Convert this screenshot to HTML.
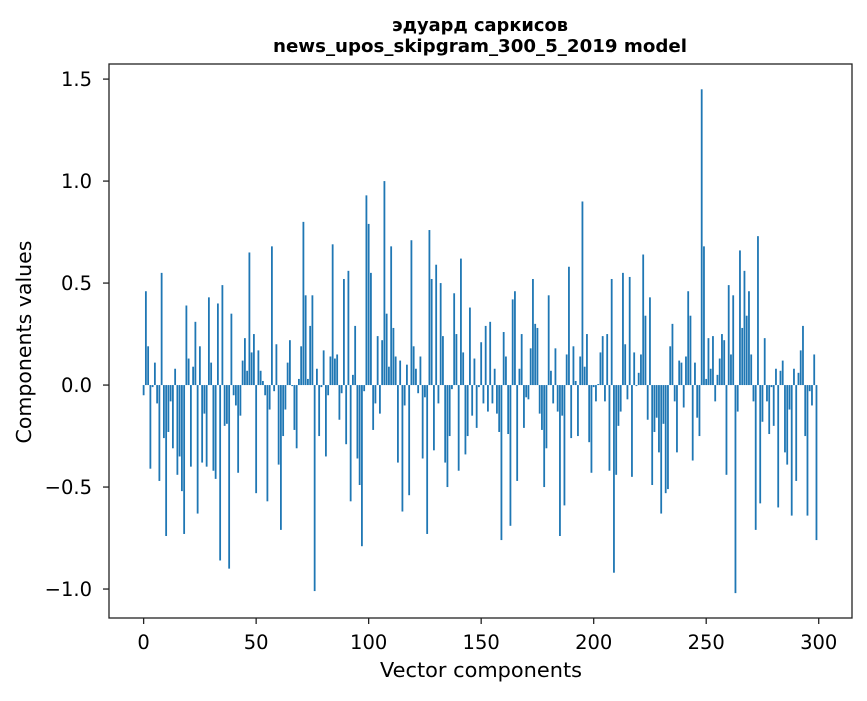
<!DOCTYPE html>
<html><head><meta charset="utf-8"><style>
body{margin:0;background:#fff;}
svg text{font-family:"DejaVu Sans","Liberation Sans",sans-serif;fill:#000;}
</style></head><body>
<svg id="chart" width="867" height="696" xmlns="http://www.w3.org/2000/svg">
<rect x="0" y="0" width="867" height="696" fill="#fff"/>
<text x="480" y="31" text-anchor="middle" font-size="17.5" font-weight="bold" textLength="176" lengthAdjust="spacingAndGlyphs">эдуард саркисов</text>
<text x="480" y="52" text-anchor="middle" font-size="17.5" font-weight="bold" textLength="414" lengthAdjust="spacingAndGlyphs">news_upos_skipgram_300_5_2019 model</text>
<g id="bars"></g>
<rect x="109" y="64" width="743" height="554" fill="none" stroke="#222" stroke-width="1.3"/>
<g id="axes"></g>
<text x="481" y="677" text-anchor="middle" font-size="20" textLength="202" lengthAdjust="spacingAndGlyphs">Vector components</text>
<text transform="translate(31,342) rotate(-90)" text-anchor="middle" font-size="20" textLength="203" lengthAdjust="spacingAndGlyphs">Components values</text>
</svg>
<script>
const values = [
-0.05,0.46,0.19,-0.41,-0.01,0.11,-0.09,-0.47,0.55,-0.26,
-0.74,-0.23,-0.08,-0.31,0.08,-0.44,-0.35,-0.52,-0.73,0.39,
0.13,-0.40,0.09,0.31,-0.63,0.19,-0.38,-0.14,-0.40,0.43,
0.11,-0.42,-0.46,0.40,-0.86,0.49,-0.20,-0.19,-0.90,0.35,
-0.05,-0.10,-0.43,-0.15,0.12,0.23,0.07,0.65,0.16,0.25,
-0.53,0.17,0.07,0.02,-0.05,-0.57,-0.12,0.68,-0.03,0.20,
-0.39,-0.71,-0.25,-0.12,0.11,0.22,-0.005,-0.22,-0.31,0.03,
0.19,0.80,0.44,0.03,0.29,0.44,-1.01,0.08,-0.25,-0.01,
0.17,-0.35,-0.05,0.14,0.69,0.13,0.15,-0.17,-0.04,0.52,
-0.29,0.56,-0.57,0.05,0.29,-0.36,-0.49,-0.79,-0.03,0.93,
0.79,0.55,-0.22,-0.09,0.24,-0.14,0.22,1.00,0.35,0.09,
0.68,0.28,0.14,-0.38,0.12,-0.62,-0.10,0.10,-0.54,0.71,
0.19,0.08,-0.04,0.14,-0.36,-0.06,-0.73,0.76,0.52,-0.32,
0.59,-0.09,0.50,0.24,-0.38,-0.50,-0.25,-0.02,0.45,0.25,
-0.42,0.62,0.16,-0.34,-0.25,0.38,-0.15,0.13,-0.21,-0.01,
0.21,-0.09,0.29,-0.13,0.31,-0.09,0.08,-0.14,-0.23,-0.76,
0.26,0.14,-0.24,-0.69,0.42,0.46,-0.47,0.08,0.25,-0.21,
-0.06,-0.07,0.18,0.52,0.30,0.28,-0.14,-0.22,-0.50,-0.31,
0.44,0.07,-0.09,0.18,-0.13,-0.74,-0.15,-0.59,0.15,0.58,
-0.26,0.19,0.02,-0.25,0.14,0.90,0.09,0.25,-0.28,-0.43,
-0.01,-0.08,0.005,0.16,0.24,-0.08,0.25,-0.42,0.52,-0.92,
-0.44,-0.20,-0.13,0.55,0.20,-0.07,0.53,-0.45,0.16,-0.005,
0.06,0.15,0.64,0.34,-0.17,0.43,-0.49,-0.23,-0.16,-0.33,
-0.63,-0.19,-0.53,-0.51,0.19,0.30,-0.08,-0.33,0.12,0.11,
-0.11,0.14,0.46,0.34,-0.37,0.11,-0.16,-0.25,1.45,0.68,
0.03,0.23,0.08,0.24,-0.08,0.05,0.13,0.25,0.22,-0.44,
0.49,0.15,0.44,-1.02,-0.13,0.66,0.28,0.56,0.34,0.46,
0.15,-0.08,-0.71,0.73,-0.58,-0.18,0.23,-0.08,-0.24,-0.01,
-0.20,0.08,-0.60,0.07,0.12,-0.33,-0.39,-0.12,-0.64,0.08,
-0.47,0.06,0.17,0.29,-0.25,-0.64,-0.03,-0.10,0.15,-0.76
];
const xTicks = [0,50,100,150,200,250,300];
const yTicks = [-1.0,-0.5,0.0,0.5,1.0,1.5];
const yTickLabels = ["\u22121.0","\u22120.5","0.0","0.5","1.0","1.5"];

const NS = "http://www.w3.org/2000/svg";
const L=109, R=852, T=64, B=618;
const xmin=-15.39, xmax=314.79, ymin=-1.142, ymax=1.574;
function xs(v){return L+(v-xmin)/(xmax-xmin)*(R-L);}
function ys(v){return B-(v-ymin)/(ymax-ymin)*(B-T);}
const bars=document.getElementById('bars');
values.forEach((v,i)=>{
  const r=document.createElementNS(NS,'rect');
  const x0=xs(i-0.4), x1=xs(i+0.4);
  const y0=ys(Math.max(v,0)), y1=ys(Math.min(v,0));
  r.setAttribute('x',x0); r.setAttribute('width',x1-x0);
  r.setAttribute('y',y0); r.setAttribute('height',Math.max(y1-y0,0.3));
  r.setAttribute('fill','#1f77b4');
  
  
  bars.appendChild(r);
});
const axes=document.getElementById('axes');
xTicks.forEach(t=>{
  const x=xs(t);
  const l=document.createElementNS(NS,'line');
  l.setAttribute('x1',x);l.setAttribute('x2',x);l.setAttribute('y1',B);l.setAttribute('y2',B+6);
  l.setAttribute('stroke','#222');l.setAttribute('stroke-width','1.3');
  
  
  axes.appendChild(l);
  const tx=document.createElementNS(NS,'text');
  tx.setAttribute('x',x);tx.setAttribute('y',649);tx.setAttribute('text-anchor','middle');tx.setAttribute('font-size','19.5');
  tx.textContent=String(t);
  
  
  axes.appendChild(tx);
});
yTicks.forEach((t,i)=>{
  const y=ys(t);
  const l=document.createElementNS(NS,'line');
  l.setAttribute('x1',L-6);l.setAttribute('x2',L);l.setAttribute('y1',y);l.setAttribute('y2',y);
  l.setAttribute('stroke','#222');l.setAttribute('stroke-width','1.3');
  
  
  axes.appendChild(l);
  const tx=document.createElementNS(NS,'text');
  tx.setAttribute('x',92);tx.setAttribute('y',y+7);tx.setAttribute('text-anchor','end');tx.setAttribute('font-size','19.5');
  tx.textContent=yTickLabels[i];
  
  
  axes.appendChild(tx);
});
</script>
</body></html>
